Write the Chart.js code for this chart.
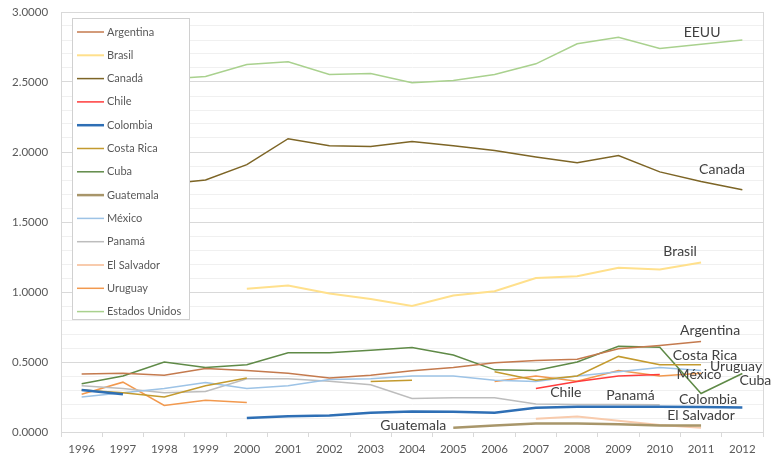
<!DOCTYPE html>
<html>
<head>
<meta charset="utf-8">
<script src="https://cdn.jsdelivr.net/npm/chart.js@4"></script>
<style>
  html, body { margin: 0; padding: 0; background: #fff; }
  #wrap { width: 771px; height: 458px; position: relative; }
</style>
</head>
<body>
<div id="wrap"><canvas id="chart"></canvas></div>
<script>
const years = ["1996", "1997", "1998", "1999", "2000", "2001", "2002", "2003", "2004", "2005", "2006", "2007", "2008", "2009", "2010", "2011", "2012"];

const argentina = [0.415, 0.42, 0.405, 0.453, 0.44, 0.42, 0.385, 0.405, 0.437, 0.46, 0.494, 0.51, 0.52, 0.594, 0.618, 0.646, null];
const brasil = [null, null, null, null, 1.023, 1.046, 0.99, 0.95, 0.90, 0.975, 1.006, 1.10, 1.113, 1.173, 1.16, 1.21, null];
const canada = [1.70, 1.73, 1.77, 1.80, 1.91, 2.095, 2.045, 2.04, 2.075, 2.045, 2.01, 1.965, 1.923, 1.975, 1.858, 1.79, 1.73];
const chile = [null, null, null, null, null, null, null, null, null, null, null, 0.31, 0.36, 0.40, 0.41, null, null];
const colombia = [0.30, 0.27, null, null, 0.10, 0.113, 0.118, 0.137, 0.146, 0.144, 0.137, 0.173, 0.18, 0.18, 0.18, 0.178, 0.175];
const costaRica = [0.30, 0.28, 0.25, 0.33, 0.385, null, null, 0.36, 0.37, null, 0.43, 0.37, 0.40, 0.54, 0.48, 0.48, null];
const cuba = [0.344, 0.40, 0.50, 0.46, 0.48, 0.566, 0.566, 0.584, 0.604, 0.55, 0.444, 0.44, 0.50, 0.613, 0.606, 0.275, 0.418];
const guatemala = [null, null, null, null, null, null, null, null, null, 0.03, 0.046, 0.06, 0.06, 0.055, 0.046, 0.046, null];
const mexico = [0.25, 0.28, 0.31, 0.354, 0.31, 0.33, 0.375, 0.38, 0.40, 0.40, 0.37, 0.36, 0.40, 0.43, 0.46, 0.44, null];
const panama = [0.33, 0.31, 0.28, 0.29, 0.38, 0.38, 0.363, 0.337, 0.24, 0.245, 0.245, 0.20, 0.196, 0.196, 0.195, null, null];
const elSalvador = [null, null, null, null, null, null, null, null, null, null, null, 0.094, 0.11, 0.08, 0.05, 0.03, null];
const uruguay = [0.27, 0.356, 0.19, 0.227, 0.21, null, null, null, null, null, 0.36, 0.40, 0.363, 0.44, 0.40, 0.42, null];
const eeuu = [2.44, 2.48, 2.52, 2.54, 2.625, 2.644, 2.553, 2.56, 2.494, 2.51, 2.553, 2.63, 2.773, 2.82, 2.74, 2.77, 2.80];

const FONT = "Lato, 'Open Sans', sans-serif";

// etiquetas sobre las líneas: serie, año, desplazamiento en px
const lineLabels = [
  { text: "EEUU", series: 12, year: "2011", dx: 1, dy: -12 },
  { text: "Canada", series: 2, year: "2011", dx: 21, dy: -12 },
  { text: "Brasil", series: 1, year: "2011", dx: -21, dy: -11 },
  { text: "Argentina", series: 0, year: "2011", dx: 9, dy: -11 },
  { text: "Costa Rica", series: 5, year: "2011", dx: 4, dy: -9 },
  { text: "Uruguay", series: 11, year: "2011", dx: 35, dy: -7 },
  { text: "México", series: 8, year: "2011", dx: -2, dy: 4 },
  { text: "Cuba", series: 6, year: "2012", dx: 13, dy: 7 },
  { text: "Colombia", series: 4, year: "2011", dx: 7, dy: -8 },
  { text: "Chile", series: 3, year: "2007", dx: 30, dy: 4 },
  { text: "Panamá", series: 9, year: "2009", dx: 12, dy: -9 },
  { text: "El Salvador", series: 10, year: "2011", dx: 0, dy: -12 },
  { text: "Guatemala", series: 7, year: "2005", dx: -40, dy: -2 }
];

function series(label, data, color, width = 1.5) {
  return { label, data, borderColor: color, backgroundColor: color, borderWidth: width, pointRadius: 0, tension: 0, spanGaps: false };
}

// borde derecho del área de trazado
const plotFrame = {
  id: "plotFrame",
  beforeDatasetsDraw(chart) {
    const { ctx, chartArea: a } = chart;
    ctx.save();
    ctx.strokeStyle = "#d9d9d9";
    ctx.lineWidth = 1;
    ctx.beginPath();
    ctx.moveTo(Math.round(a.right) + 0.5, a.top);
    ctx.lineTo(Math.round(a.right) + 0.5, a.bottom);
    ctx.stroke();
    ctx.restore();
  }
};

// leyenda en recuadro blanco dentro del área del gráfico, encima de las líneas
const boxLegend = {
  id: "boxLegend",
  afterDatasetsDraw(chart) {
    const ctx = chart.ctx;
    const area = chart.chartArea;
    const left = area.left + 11, top = area.top + 6, w = 117, h = 301, step = 23.3;
    ctx.save();
    ctx.fillStyle = "#fff";
    ctx.fillRect(left, top, w, h);
    ctx.strokeStyle = "#d0d0d0";
    ctx.lineWidth = 1;
    ctx.strokeRect(left + 0.5, top + 0.5, w, h);
    ctx.font = "11px " + FONT;
    ctx.textBaseline = "middle";
    chart.data.datasets.forEach((ds, i) => {
      const y = top + 14 + i * step;
      ctx.strokeStyle = ds.borderColor;
      ctx.lineWidth = ds.borderWidth;
      ctx.beginPath();
      ctx.moveTo(left + 5, y);
      ctx.lineTo(left + 32, y);
      ctx.stroke();
      ctx.fillStyle = "#595959";
      ctx.fillText(ds.label, left + 35, y);
    });
    ctx.restore();
  }
};

const lineLabelPlugin = {
  id: "lineLabels",
  afterDatasetsDraw(chart) {
    const ctx = chart.ctx;
    const xs = chart.scales.x, ys = chart.scales.y;
    ctx.save();
    ctx.font = "14px " + FONT;
    ctx.fillStyle = "#404040";
    ctx.textAlign = "center";
    ctx.textBaseline = "middle";
    for (const l of lineLabels) {
      const idx = years.indexOf(l.year);
      const v = chart.data.datasets[l.series].data[idx];
      ctx.fillText(l.text, xs.getPixelForValue(idx) + l.dx, ys.getPixelForValue(v) + l.dy);
    }
    ctx.restore();
  }
};

new Chart(document.getElementById("chart"), {
  type: "line",
  data: {
    labels: years,
    datasets: [
      series("Argentina", argentina, "#c47a4e"),
      series("Brasil", brasil, "#ffe08c", 2),
      series("Canadá", canada, "#7d6526"),
      series("Chile", chile, "#ff3b3b"),
      series("Colombia", colombia, "#2e6fb5", 2.5),
      series("Costa Rica", costaRica, "#c39a2e"),
      series("Cuba", cuba, "#5f8a47"),
      series("Guatemala", guatemala, "#a8966a", 2.5),
      series("México", mexico, "#9dc3e6"),
      series("Panamá", panama, "#bdbdbd"),
      series("El Salvador", elSalvador, "#f8cbad", 2),
      series("Uruguay", uruguay, "#f2994e"),
      series("Estados Unidos", eeuu, "#a9d18e")
    ]
  },
  options: {
    responsive: true,
    maintainAspectRatio: false,
    animation: false,
    layout: { padding: { left: 12, right: 8, top: 12, bottom: 0 } },
    plugins: { legend: { display: false }, tooltip: { enabled: false } },
    scales: {
      x: {
        offset: true,
        grid: { drawOnChartArea: false, offset: true, tickLength: 5, color: "#d9d9d9" },
        border: { color: "#d9d9d9" },
        ticks: { color: "#595959", font: { family: FONT, size: 11.5 }, maxRotation: 0, autoSkip: false, padding: 5 },
        afterFit: s => { s.height = 26; }
      },
      y: {
        min: 0,
        max: 3,
        grid: {
          color: c => (Math.round(c.tick.value * 10) % 5 === 0 ? "#d9d9d9" : "#f0f0f0"),
          drawTicks: false
        },
        border: { color: "#d9d9d9" },
        ticks: {
          stepSize: 0.1,
          autoSkip: false,
          padding: 4,
          crossAlign: "far",
          color: "#595959",
          font: { family: FONT, size: 11.5 },
          callback: v => (Math.round(v * 10) % 5 === 0 ? v.toFixed(4) : "")
        },
        afterFit: s => { s.width = 49; }
      }
    }
  },
  plugins: [plotFrame, boxLegend, lineLabelPlugin]
});
</script>
</body>
</html>
